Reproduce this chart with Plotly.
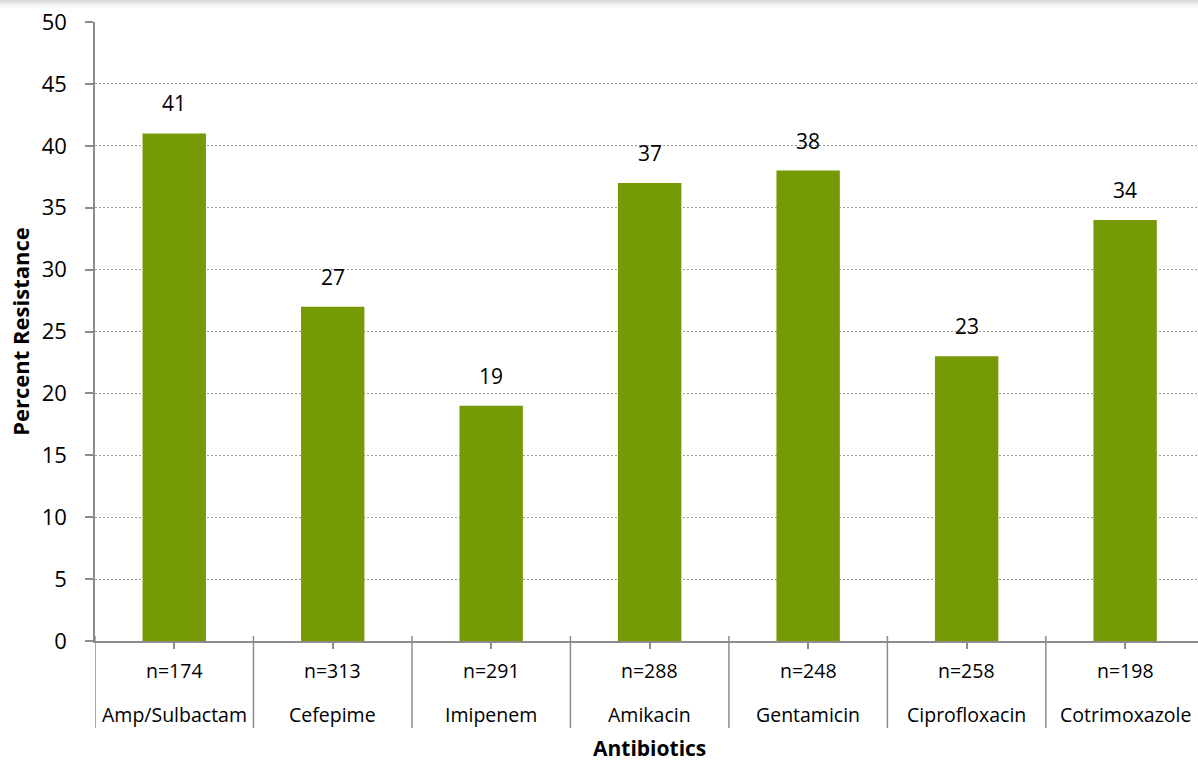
import plotly.graph_objects as go

antibiotics = ["Amp/Sulbactam", "Cefepime", "Imipenem", "Amikacin",
               "Gentamicin", "Ciprofloxacin", "Cotrimoxazole"]
sample_sizes = [174, 313, 291, 288, 248, 258, 198]
resistance = [41, 27, 19, 37, 38, 23, 34]

FONT = "Open Sans"
AXIS_GRAY = "#8c8c8c"
BAR_GREEN = "#769a05"

W, H = 1198, 761
M_L, M_R, M_T, M_B = 95, 0, 22, 120
plot_h = H - M_T - M_B

x_idx = list(range(len(antibiotics)))

fig = go.Figure(go.Bar(
    x=x_idx,
    y=resistance,
    width=0.4,
    marker=dict(color=BAR_GREEN, line=dict(width=0)),
    hoverinfo="skip",
))

annotations = []
# value labels above bars
for i, v in zip(x_idx, resistance):
    annotations.append(dict(x=i, y=v, xref="x", yref="y", text=str(v),
                            showarrow=False, yanchor="bottom", yshift=14,
                            font=dict(family=FONT, size=21, color="#000")))
# two-row category labels
for i, (name, n) in enumerate(zip(antibiotics, sample_sizes)):
    annotations.append(dict(x=i, y=0, xref="x", yref="paper", text=f"n={n}",
                            showarrow=False, yanchor="middle", yshift=-29,
                            font=dict(family=FONT, size=19.5, color="#000")))
    annotations.append(dict(x=i, y=0, xref="x", yref="paper", text=name,
                            showarrow=False, yanchor="middle", yshift=-73,
                            font=dict(family=FONT, size=19.5, color="#000")))
# x-axis title
annotations.append(dict(x=(649.5 - M_L) / (W - M_L - M_R), y=0, xref="paper",
                        yref="paper", text="<b>Antibiotics</b>", showarrow=False,
                        yanchor="middle", yshift=-107,
                        font=dict(family=FONT, size=21, color="#000")))

shapes = []
# group dividers below the axis
for i in range(len(antibiotics) + 1):
    shapes.append(dict(type="line", xref="x", yref="paper",
                       x0=i - 0.5, x1=i - 0.5,
                       y0=5 / plot_h, y1=-87 / plot_h,
                       line=dict(color=AXIS_GRAY, width=1.5)))
# soft shadow along the top edge
for k, op in enumerate([0.14, 0.09, 0.05, 0.025]):
    shapes.append(dict(type="rect", xref="paper", yref="paper",
                       x0=-0.1, x1=1.01,
                       y0=1 + (M_T - 2 * k - 2) / plot_h,
                       y1=1 + (M_T - 2 * k) / plot_h,
                       line=dict(width=0), fillcolor=f"rgba(0,0,0,{op})"))

fig.update_layout(
    width=W, height=H,
    margin=dict(l=M_L, r=M_R, t=M_T, b=M_B),
    plot_bgcolor="white", paper_bgcolor="white",
    showlegend=False,
    font=dict(family=FONT, color="#000"),
    annotations=annotations,
    shapes=shapes,
    xaxis=dict(
        range=[-0.5, 6.46], tickvals=x_idx, ticktext=[""] * len(x_idx),
        ticks="outside", ticklen=6, tickwidth=1.5, tickcolor=AXIS_GRAY,
        showline=True, linecolor=AXIS_GRAY, linewidth=1.5,
        showgrid=False, zeroline=False,
    ),
    yaxis=dict(
        range=[0, 50], dtick=5, tickmode="linear",
        ticks="outside", ticklen=8, tickwidth=1.5, tickcolor=AXIS_GRAY,
        showline=True, linecolor=AXIS_GRAY, linewidth=1.5,
        showgrid=True, gridcolor="#9a9a9a", griddash="2px,2px", gridwidth=1.2,
        zeroline=False, ticklabelstandoff=14,
        tickfont=dict(family=FONT, size=22),
        title=dict(text="<b>Percent Resistance</b>", standoff=6,
                   font=dict(family=FONT, size=22)),
    ),
)

fig.write_html("out.html")
